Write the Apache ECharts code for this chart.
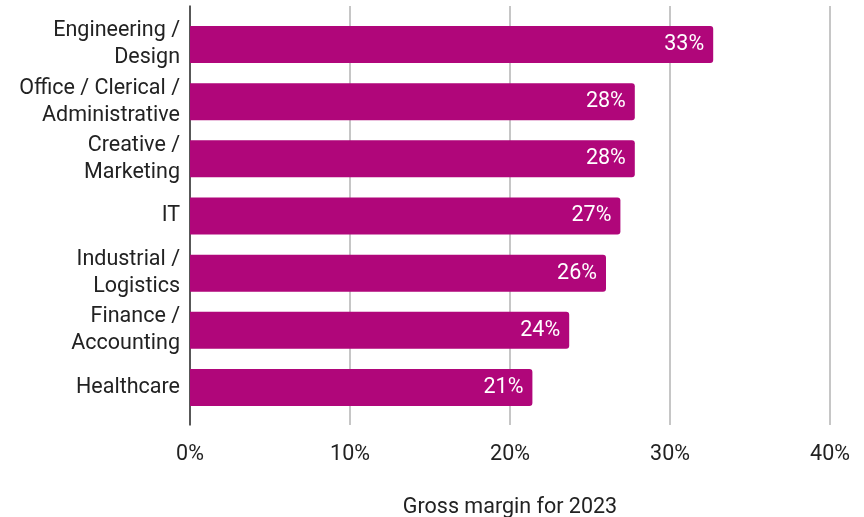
<!DOCTYPE html>
<html>
<head>
<meta charset="utf-8">
<script src="https://cdn.jsdelivr.net/npm/echarts@6/dist/echarts.min.js"></script>
<style>
html,body{margin:0;padding:0;background:#fff;}
#main{width:864px;height:517px;}
</style>
</head>
<body>
<div id="main"></div>
<script>
const categories = ["Engineering /\nDesign", "Office / Clerical /\nAdministrative", "Creative /\nMarketing", "IT", "Industrial /\nLogistics", "Finance /\nAccounting", "Healthcare"];
const grossMargin = [32.7, 27.8, 27.8, 26.9, 26.0, 23.7, 21.4];
const xTicks = [0, 10, 20, 30, 40];
const axisTitle = "Gross margin for 2023";

const chart = echarts.init(document.getElementById('main'), null, {renderer: 'canvas'});
const FONT = 'Roboto';
const FS = 21.5;
chart.setOption({
  animation: false,
  textStyle: {fontFamily: FONT},
  grid: [
    {left: 190, right: 34, top: 6, bottom: 92, containLabel: false, outerBoundsMode: 'none'},
    {left: 190, right: 34, top: 16, bottom: 101, containLabel: false, outerBoundsMode: 'none'}
  ],
  xAxis: [
    {
      gridIndex: 0, type: 'value', min: xTicks[0], max: xTicks[xTicks.length - 1], interval: xTicks[1] - xTicks[0],
      axisLine: {show: false}, axisTick: {show: false},
      splitLine: {show: true, lineStyle: {color: '#c6c6c6', width: 2}},
      axisLabel: {formatter: '{value}%', fontSize: FS, color: '#222', margin: 19, fontFamily: FONT},
      name: axisTitle, nameLocation: 'middle', nameGap: 72,
      nameTextStyle: {fontSize: FS, color: '#222', fontFamily: FONT}
    },
    {
      gridIndex: 1, type: 'value', min: xTicks[0], max: xTicks[xTicks.length - 1], show: false
    }
  ],
  yAxis: [
    {
      gridIndex: 0, type: 'category', data: categories, inverse: true,
      axisLine: {show: true, lineStyle: {color: '#333', width: 1.5}},
      axisTick: {show: false}, axisLabel: {show: false}, splitLine: {show: false}
    },
    {
      gridIndex: 1, type: 'category', data: categories, inverse: true,
      axisLine: {show: false}, axisTick: {show: false},
      axisLabel: {interval: 0, fontSize: FS, color: '#222', margin: 10, lineHeight: 27, align: 'right', padding: [6, 0, 0, 0], fontFamily: FONT}
    }
  ],
  series: [
    {
      type: 'bar', xAxisIndex: 0, yAxisIndex: 0, data: [], silent: true
    },
    {
      type: 'bar', xAxisIndex: 1, yAxisIndex: 1, data: grossMargin, barWidth: 37,
      itemStyle: {color: '#B0067A', borderRadius: [0, 3, 3, 0]},
      label: {
        show: true, position: 'insideRight', distance: 9, color: '#fff', fontSize: FS, fontFamily: FONT,
        formatter: p => Math.round(p.value) + '%'
      }
    }
  ]
});
</script>
</body>
</html>
